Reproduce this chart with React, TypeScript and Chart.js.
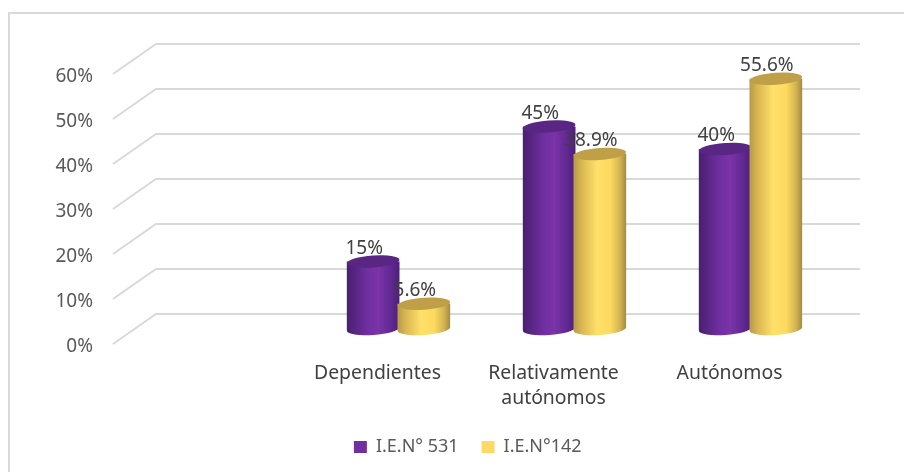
import React, { useEffect, useRef } from "react";
import { Chart, registerables } from "chart.js";

Chart.register(...registerables);

const categories: (string | string[])[] = ["", "Dependientes", ["Relativamente", "autónomos"], "Autónomos"];
const ien531: (number | null)[] = [null, 15, 45, 40];
const ien142: (number | null)[] = [null, 5.6, 38.9, 55.6];
const labels531 = ["", "15%", "45%", "40%"];
const labels142 = ["", "5.6%", "38.9%", "55.6%"];
const seriesNames = ["I.E.N° 531", "I.E.N°142"];
const legendColors = ["#7030A0", "#FFD966"];
const FONT = "'Noto Sans'";

const stops = [
  [[0, "#4a1f72"], [0.12, "#55237f"], [0.4, "#7030a0"], [0.6, "#7a33a8"], [0.85, "#5f2890"], [1, "#4c2075"]],
  [[0, "#b59a48"], [0.15, "#d9b652"], [0.45, "#ffe169"], [0.7, "#fdd95f"], [0.88, "#d3b453"], [1, "#a58a3e"]],
] as [number, string][][];
const capColors = ["#5a2683", "#bfa048"];

const TILT = -0.07;
const RY = 6;

const cylinders = {
  id: "cylinders",
  beforeDatasetsDraw(chart: any) {
    const { ctx } = chart;
    [ien531, ien142].forEach((values, i) => {
      chart.getDatasetMeta(i).data.forEach((bar: any, k: number) => {
        if (values[k] == null) return;
        const rx = bar.width / 2 + 1;
        const g = ctx.createLinearGradient(bar.x - rx, 0, bar.x + rx, 0);
        stops[i].forEach(([o, c]) => g.addColorStop(o, c));
        ctx.save();
        ctx.beginPath();
        ctx.moveTo(bar.x - rx, bar.y);
        ctx.lineTo(bar.x - rx, bar.base);
        ctx.ellipse(bar.x, bar.base, rx, RY, TILT, Math.PI, 0, true);
        ctx.lineTo(bar.x + rx, bar.y);
        ctx.closePath();
        ctx.fillStyle = g;
        ctx.fill();
        ctx.beginPath();
        ctx.ellipse(bar.x, bar.y, rx, RY, TILT, 0, Math.PI * 2);
        ctx.fillStyle = capColors[i];
        ctx.fill();
        ctx.restore();
      });
    });
  },
  beforeDatasetDraw() {
    return false;
  },
};

const chrome = {
  id: "chrome",
  afterLayout(chart: any) {
    // legend sits right of the canvas centre in the reference
    chart.legend.left += 28.5;
    chart.legend.right += 28.5;
  },
  beforeDatasetsDraw(chart: any) {
    const { ctx, chartArea, scales } = chart;
    ctx.save();
    ctx.strokeStyle = "#d9d9d9";
    ctx.lineWidth = 2;
    ctx.beginPath();
    ctx.moveTo(9, 472);
    ctx.lineTo(9, 13);
    ctx.lineTo(904, 13);
    ctx.stroke();
    scales.y.ticks.forEach((t: any) => {
      const y = scales.y.getPixelForValue(t.value);
      ctx.beginPath();
      ctx.moveTo(chartArea.left - 21.5, y + 15);
      ctx.lineTo(chartArea.left + 21.5, y - 15);
      ctx.lineTo(chartArea.right + 21.5, y - 15);
      ctx.stroke();
    });
    ctx.restore();
  },
};

const valueLabels = {
  id: "valueLabels",
  afterDatasetsDraw(chart: any) {
    const { ctx } = chart;
    ctx.save();
    ctx.font = `19px ${FONT}`;
    ctx.fillStyle = "#404040";
    ctx.textAlign = "center";
    ctx.textBaseline = "middle";
    [labels531, labels142].forEach((texts, i) => {
      chart.getDatasetMeta(i).data.forEach((bar: any, k: number) => {
        if (texts[k]) ctx.fillText(texts[k], bar.x - 9, bar.y - 13);
      });
    });
    ctx.restore();
  },
};

export default function App() {
  const ref = useRef<HTMLCanvasElement>(null);
  useEffect(() => {
    document.body.style.margin = "0";
    document.body.style.background = "#fff";
    const chart = new Chart(ref.current!, {
      type: "bar",
      data: {
        labels: categories as any,
        datasets: [
          { label: seriesNames[0], data: ien531, backgroundColor: legendColors[0], categoryPercentage: 0.576, barPercentage: 1 },
          { label: seriesNames[1], data: ien142, backgroundColor: legendColors[1], categoryPercentage: 0.576, barPercentage: 1 },
        ],
      },
      options: {
        animation: false,
        responsive: false,
        devicePixelRatio: 1,
        layout: { padding: { left: 40, right: 65.5, top: 59, bottom: 6 } },
        plugins: {
          tooltip: { enabled: false },
          title: { display: false },
          legend: {
            position: "bottom",
            labels: {
              boxWidth: 13,
              boxHeight: 12,
              padding: 23,
              color: "#595959",
              font: { family: FONT, size: 18 },
              generateLabels: () =>
                seriesNames.map((text, i) => ({
                  text,
                  fillStyle: legendColors[i],
                  strokeStyle: legendColors[i],
                  lineWidth: 0,
                  datasetIndex: i,
                  fontColor: "#595959",
                })),
            },
          },
        },
        scales: {
          x: {
            grid: { display: false },
            border: { display: false },
            afterFit: (s: any) => { s.height = 86; },
            ticks: {
              autoSkip: false,
              maxRotation: 0,
              minRotation: 0,
              labelOffset: -21,
              padding: 23.5,
              color: "#404040",
              font: { family: FONT, size: 19.4, lineHeight: 1.29 },
            },
          },
          y: {
            min: 0,
            max: 60,
            grid: { display: false, drawTicks: false },
            border: { display: false },
            afterFit: (s: any) => { s.width = 94.5; },
            ticks: {
              stepSize: 10,
              labelOffset: 17.5,
              padding: 41.5,
              color: "#595959",
              font: { family: FONT, size: 19 },
              callback: (v: any) => `${v}%`,
            },
          },
        },
      },
      plugins: [chrome, cylinders, valueLabels],
    } as any);
    return () => chart.destroy();
  }, []);
  return <canvas ref={ref} width={904} height={472} style={{ display: "block", width: 904, height: 472 }} />;
}
